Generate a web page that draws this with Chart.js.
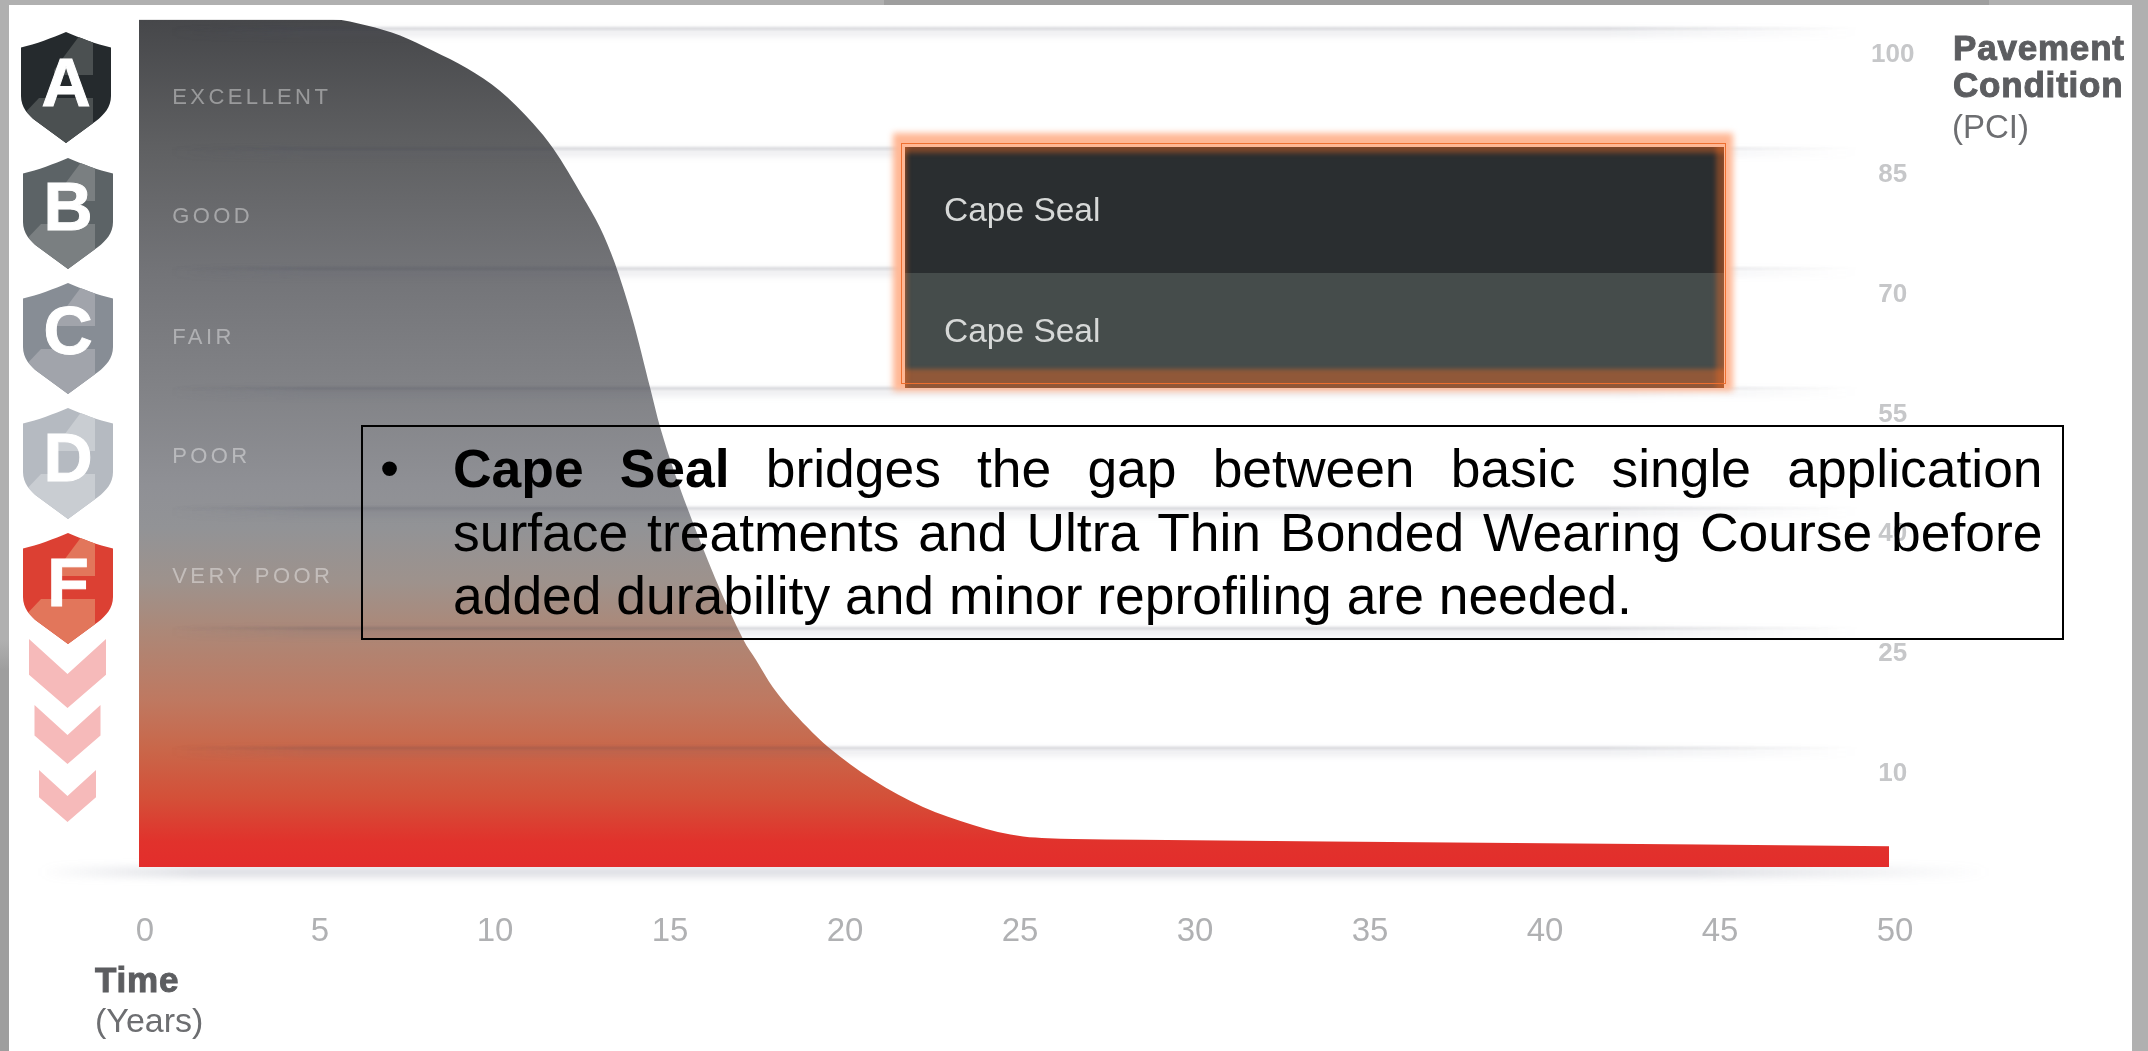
<!DOCTYPE html>
<html>
<head>
<meta charset="utf-8">
<title>Pavement Condition</title>
<script src="https://cdn.jsdelivr.net/npm/chart.js@4"></script>
<style>
  html,body{margin:0;padding:0;width:2148px;height:1051px;overflow:hidden;background:#b0b0b0;font-family:"Liberation Sans",Arial,sans-serif;}
  .abs{position:absolute;}
  #sheet{left:9px;top:5px;width:2123px;height:1046px;background:#fff;}
  #stripTop{left:884px;top:0;width:1105px;height:5px;background:#9e9e9e;}
  #stripLeft{left:0;top:640px;width:9px;height:411px;background:linear-gradient(#b0b0b0,#9e9e9e 30px);}
  canvas{position:absolute;left:0;top:0;}
  svg{position:absolute;left:0;top:0;}
  .axisName{color:#5c5d60;font-size:35px;font-weight:bold;line-height:37px;-webkit-text-stroke:1px #5c5d60;letter-spacing:.8px;}
  .axisUnit{color:#6d6e71;font-size:34px;line-height:38px;}
  #glow{left:893px;top:133px;width:840px;height:258px;background:#ffb794;filter:blur(3px);}
  #outline{left:901px;top:143px;width:823px;height:239px;border:1.5px solid #ee6f2f;}
  #panelTop{left:905px;top:147px;width:819px;height:126px;background:#2a2e30;}
  #panelBottom{left:905px;top:273px;width:819px;height:115px;background:#454c4b;}
  #panelEdge{left:905px;top:147px;width:819px;height:241px;
    box-shadow:inset 0 8px 5px -2px rgba(235,105,35,.42),inset 6px 0 4px -3px rgba(235,105,35,.3),inset -11px 0 5px -3px rgba(235,105,35,.42),inset 0 -21px 4px -2px rgba(235,105,35,.45);}
  .seal{left:944px;color:#d6d8d7;font-size:33.5px;line-height:40px;}
  #note{left:361px;top:425px;width:1703px;height:215px;border:2px solid #000;box-sizing:border-box;}
  #bullet{left:380px;top:437px;font-size:54.5px;line-height:63.5px;color:#000;}
  #noteText{left:453px;top:437px;width:1622px;font-size:54.5px;line-height:63.5px;color:#000;transform:scaleX(.98);transform-origin:0 0;}
  #noteText div{text-align:justify;text-align-last:justify;}
  #noteText div:last-child{text-align-last:left;}
</style>
</head>
<body>
<div class="abs" id="stripTop"></div>
<div class="abs" id="stripLeft"></div>
<div class="abs" id="sheet"></div>
<canvas id="chart" width="2148" height="1051"></canvas>

<!-- grade shields and the chevrons under them -->
<svg id="grades" width="2148" height="1051"></svg>

<div class="abs axisName" style="left:1953px;top:29px;">Pavement<br>Condition</div>
<div class="abs axisUnit" style="left:1952px;top:108px;font-size:33px;">(PCI)</div>
<div class="abs axisName" style="left:95px;top:961px;">Time</div>
<div class="abs axisUnit" style="left:95px;top:1001px;">(Years)</div>

<div class="abs" id="glow"></div>
<div class="abs" id="panelTop"></div>
<div class="abs" id="panelBottom"></div>
<div class="abs" id="panelEdge"></div>
<div class="abs" id="outline"></div>
<div class="abs seal" style="top:190px;">Cape Seal</div>
<div class="abs seal" style="top:311px;">Cape Seal</div>

<div class="abs" id="note"></div>
<div class="abs" id="bullet">•</div>
<div class="abs" id="noteText">
  <div><b>Cape Seal</b> bridges the gap between basic single application</div>
  <div>surface treatments and Ultra Thin Bonded Wearing Course before</div>
  <div>added durability and minor reprofiling are needed.</div>
</div>

<script>
// deterioration curve
const years = [0,5.54,6.51,7.46,8.4,9.37,10.31,11.26,11.83,12.69,13.17,13.6,14.11,14.6,14.89,15.66,17.26,17.63,18.11,19.09,19.69,20.97,22.4,23.83,24.54,25.26,25.97,26.69,28.6,50];
const pci   = [101,101,100.25,99,97.1,94.9,92.1,88,84.9,78.75,75,70.5,63.4,55,50,40,23.5,20.9,17.5,12.5,10,5.9,2.5,0.25,-0.63,-1.2,-1.41,-1.5,-1.6,-2.4];

const xTicks = [0,5,10,15,20,25,30,35,40,45,50];
const yTicks = [100,85,70,55,40,25,10];

const bandNames  = ['EXCELLENT','GOOD','FAIR','POOR','VERY POOR'];
const bandValues = [90.4,75.5,60.4,45.5,30.5];
const bandYear   = 0.95;

const grades      = ['A','B','C','D','F'];
const gradeBase   = ['#252a2d','#5c6366','#878d95','#b5bac1','#dc4033'];
const gradeFacet  = ['#4b5051','#7a7f81','#a1a4ab','#c9cdd2','#e2765b'];

// fill colours, top of the plot to the baseline
const fillStops = [
  [0,'#46474a'],[0.15,'#5f6062'],[0.3,'#737478'],[0.44,'#828387'],[0.55,'#8f9095'],
  [0.6,'#929396'],[0.665,'#9e928c'],[0.72,'#ac8878'],[0.805,'#bf7860'],[0.86,'#c9674a'],
  [0.92,'#d44f38'],[0.97,'#e1322c'],[1,'#e32d2c']
];

function areaFill(ctx){
  const a = ctx.chart.chartArea;
  if(!a) return '#888';
  const g = ctx.chart.ctx.createLinearGradient(0,a.top,0,a.bottom);
  fillStops.forEach(s=>g.addColorStop(s[0],s[1]));
  return g;
}

// blurred horizontal rule that fades out at both ends
function softRule(ctx,y,x0,x1,rgb,alpha,width,blur){
  const g = ctx.createLinearGradient(x0,0,x1,0);
  g.addColorStop(0,'rgba('+rgb+',0)');
  g.addColorStop(0.08,'rgba('+rgb+','+alpha+')');
  g.addColorStop(0.85,'rgba('+rgb+','+alpha+')');
  g.addColorStop(1,'rgba('+rgb+',0)');
  ctx.save();
  ctx.filter = 'blur('+blur+'px)';
  ctx.strokeStyle = g;
  ctx.lineWidth = width;
  ctx.beginPath();
  ctx.moveTo(x0,y);
  ctx.lineTo(x1,y);
  ctx.stroke();
  ctx.restore();
}

const softGrid = {
  id:'softGrid',
  afterLayout(chart){
    // the value labels straddle the right edge of the plot, so widen the axis box leftwards
    chart.scales.y.left -= 30;
  },
  beforeDatasetsDraw(chart){
    const y = chart.scales.y.getPixelForValue(chart.scales.y.min);
    softRule(chart.ctx,y+5,40,1990,'120,125,145',.3,9,4);
  },
  afterDatasetsDraw(chart){
    const ctx = chart.ctx, sy = chart.scales.y;
    yTicks.forEach(v=>{
      const y = sy.getPixelForValue(v);
      softRule(ctx,y+1,170,1860,'55,58,75',.17,2.5,1);
      softRule(ctx,y+5,170,1860,'90,95,120',.11,8,3);
    });
  }
};

// condition names inside the filled area
const bandLabels = {
  id:'bandLabels',
  afterDatasetsDraw(chart){
    const ctx = chart.ctx;
    ctx.save();
    ctx.font = '22px "Liberation Sans"';
    ctx.letterSpacing = '3.4px';
    ctx.fillStyle = 'rgba(255,255,255,.4)';
    ctx.textBaseline = 'alphabetic';
    bandNames.forEach((n,i)=>{
      ctx.fillText(n,chart.scales.x.getPixelForValue(bandYear),chart.scales.y.getPixelForValue(bandValues[i]));
    });
    ctx.restore();
  }
};

new Chart(document.getElementById('chart'),{
  type:'line',
  data:{
    labels:years,
    datasets:[{
      data:years.map((x,i)=>({x:x,y:pci[i]})),
      borderWidth:0,
      pointRadius:0,
      cubicInterpolationMode:'monotone',
      fill:'start',
      backgroundColor:areaFill
    }]
  },
  options:{
    responsive:false,
    animation:false,
    layout:{autoPadding:false,padding:{left:139,top:19,right:0,bottom:0}},
    plugins:{legend:{display:false},tooltip:{enabled:false}},
    scales:{
      x:{
        type:'linear',min:0,max:50,
        grid:{display:false},border:{display:false},
        afterBuildTicks(s){s.ticks = xTicks.map(v=>({value:v}));},
        afterFit(s){s.height = 184;},
        ticks:{autoSkip:false,maxRotation:0,labelOffset:6,padding:37,color:'#b0b1b3',font:{family:'"Liberation Sans"',size:33}}
      },
      y:{
        type:'linear',position:'right',min:-5,max:101,
        grid:{display:false},border:{display:false},
        afterBuildTicks(s){s.ticks = yTicks.map(v=>({value:v}));},
        afterFit(s){s.width = 259;},
        ticks:{autoSkip:false,labelOffset:27,padding:4,crossAlign:'center',color:'#c6c7c9',font:{family:'"Liberation Sans"',size:26,weight:'bold'}}
      }
    }
  },
  plugins:[softGrid,bandLabels]
});

// shields
const shieldPath = 'M0 0C14 6 30 12 45 15.5L45 64C45 75 38 83 30 89L0 111L-30 89C-38 83 -45 75 -45 64L-45 15.5C-30 12 -14 6 0 0Z';
const shieldX = [66,68,68,68,68];
const shieldY = [32,158,283,408,533];
const letterY = [106,230,354,481,606];
const letterX = [66,68,68,68,68];

let svg = '<defs><clipPath id="shieldClip"><path d="'+shieldPath+'"/></clipPath></defs>';
grades.forEach((g,i)=>{
  svg += '<g transform="translate('+shieldX[i]+','+shieldY[i]+')">'
      +  '<path d="'+shieldPath+'" fill="'+gradeBase[i]+'"/>'
      +  '<g clip-path="url(#shieldClip)" fill="'+gradeFacet[i]+'">'
      +  '<polygon points="14,3 -12,38 -12,43 27,43 27,10"/>'
      +  '<polygon points="-47,87 -27,66 27,66 27,115 -47,115"/>'
      +  '</g></g>'
      +  '<text x="'+letterX[i]+'" y="'+letterY[i]+'" text-anchor="middle" fill="#fff" stroke="#fff" stroke-width="1" font-family="Liberation Sans" font-weight="bold" font-size="68">'+g+'</text>';
});
// chevrons: half width, top, notch, tip
[[38.5,639,674,708],[33,705,735,764],[28.5,770,796,822]].forEach(c=>{
  const w=c[0],t=c[1],n=c[2],b=c[3],cx=67.5,side=b-(n-t)*0.95;
  svg += '<polygon fill="#f6baba" points="'+[
    [cx-w,t],[cx,n],[cx+w,t],[cx+w,side],[cx,b],[cx-w,side]
  ].map(p=>p.join(',')).join(' ')+'"/>';
});
document.getElementById('grades').innerHTML = svg;
</script>
</body>
</html>
